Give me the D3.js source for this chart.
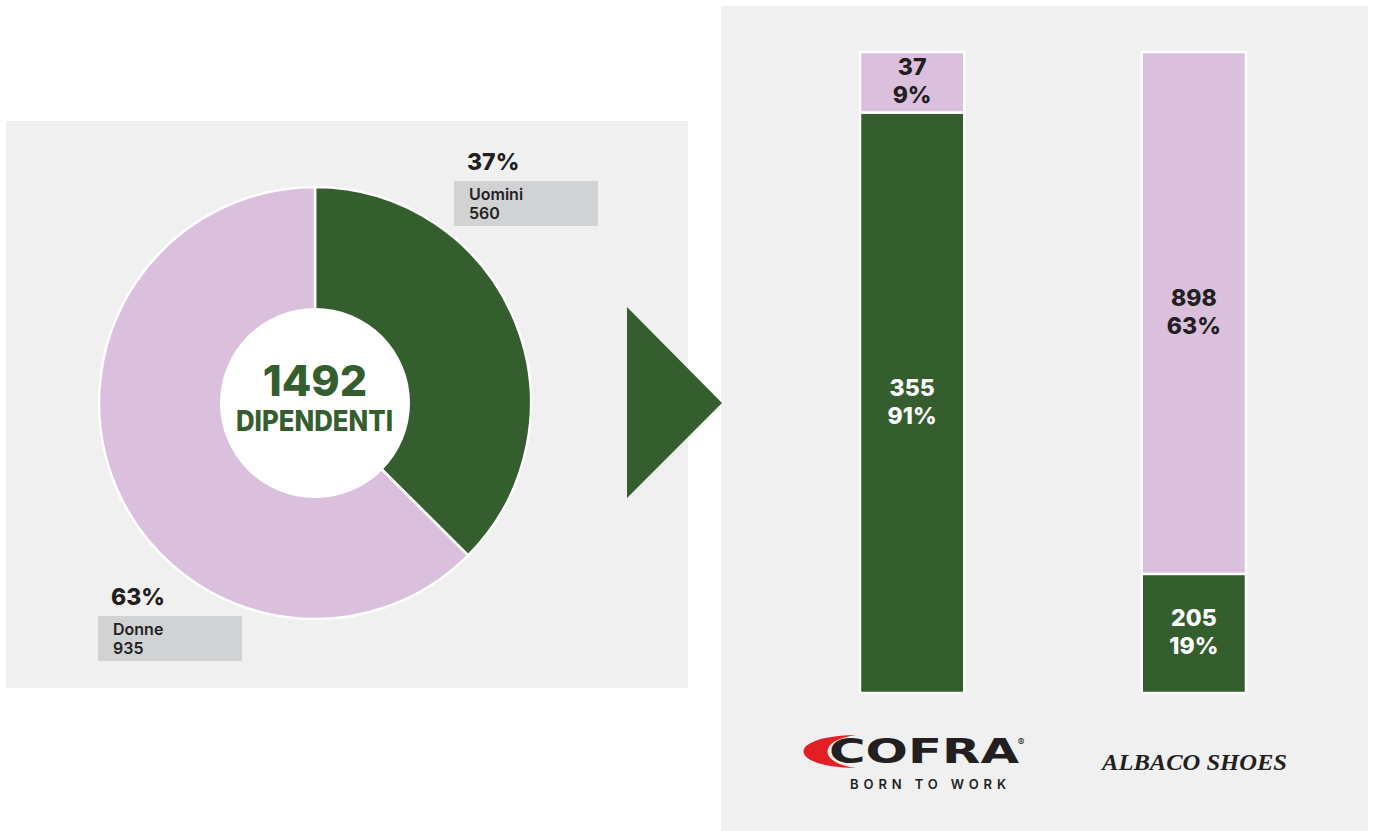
<!DOCTYPE html>
<html>
<head>
<meta charset="utf-8">
<script src="https://cdn.jsdelivr.net/npm/d3@7"></script>
<style>
  html, body { margin: 0; padding: 0; background: #ffffff; }
  svg { display: block; font-family: Inter, "Noto Sans", Roboto, sans-serif; }
</style>
</head>
<body>
<svg id="chart" width="1373" height="831"></svg>
<script>
// Workforce split by gender (donut)
const genderLabels = ["Uomini", "Donne"];
const genderCounts = [560, 935];
const genderShares = ["37%", "63%"];
const totalEmployees = "1492";
const totalCaption = "DIPENDENTI";

// Split by company (stacked columns): men, women
const companies = ["COFRA", "ALBACO SHOES"];
const menCounts = [355, 205];
const womenCounts = [37, 898];
const menShares = ["91%", "19%"];
const womenShares = ["9%", "63%"];

const GREEN = "#355e2e";
const PINK = "#dbc0de";
const PANEL = "#f0f0f0";
const INK = "#231f20";

const svg = d3.select("#chart");

// ---------- background panels ----------
svg.append("rect").attr("x", 6).attr("y", 121).attr("width", 682).attr("height", 567).attr("fill", PANEL);
svg.append("rect").attr("x", 721).attr("y", 6).attr("width", 647).attr("height", 825).attr("fill", PANEL);

// ---------- donut ----------
const cx = 315, cy = 403, rOuter = 216, rInner = 95;
const pie = d3.pie().sort(null).value(d => d.count);
const arcs = pie(genderLabels.map((l, i) => ({ label: l, count: genderCounts[i], share: genderShares[i] })));
const arc = d3.arc().innerRadius(0).outerRadius(rOuter);
const colour = d3.scaleOrdinal().domain(genderLabels).range([GREEN, PINK]);

const donut = svg.append("g").attr("transform", `translate(${cx},${cy})`);
donut.selectAll("path.slice")
  .data(arcs)
  .join("path")
  .attr("class", "slice")
  .attr("d", arc)
  .attr("fill", d => colour(d.data.label))
  .attr("stroke", "#ffffff")
  .attr("stroke-width", 2.5)
  .attr("stroke-linejoin", "round");
donut.append("circle").attr("r", rInner).attr("fill", "#ffffff");

donut.append("text")
  .attr("y", -7).attr("text-anchor", "middle")
  .attr("font-size", 43).attr("font-weight", 800).attr("fill", GREEN)
  .text(totalEmployees);
donut.append("text")
  .attr("x", -79).attr("y", 28)
  .attr("font-size", 28).attr("font-weight", 800).attr("fill", GREEN)
  .attr("textLength", 157).attr("lengthAdjust", "spacingAndGlyphs")
  .text(totalCaption);

// callouts for the two slices
const callouts = [
  { x: 454, y: 181 },
  { x: 98, y: 616 }
];
arcs.forEach((a, i) => {
  const c = callouts[i];
  const g = svg.append("g").attr("transform", `translate(${c.x},${c.y})`);
  g.append("text")
    .attr("x", 13).attr("y", -11)
    .attr("font-size", 23).attr("font-weight", 800).attr("fill", INK)
    .text(a.data.share);
  g.append("rect").attr("width", 144).attr("height", 45).attr("fill", "#d1d2d4");
  g.append("text")
    .attr("x", 15).attr("y", 19)
    .attr("font-size", 16).attr("font-weight", 600).attr("fill", INK)
    .text(a.data.label);
  g.append("text")
    .attr("x", 15).attr("y", 38)
    .attr("font-size", 16).attr("font-weight", 600).attr("fill", INK)
    .text(a.data.count);
});

// ---------- arrow ----------
svg.append("path")
  .attr("d", "M627,307 L722,403 L627,498 Z")
  .attr("fill", GREEN);

// ---------- stacked columns ----------
const x = d3.scaleBand().domain(companies).range([860, 1246]).paddingInner(0.63);
const y = d3.scaleLinear().domain([0, 1]).range([693, 52]);

const rows = companies.map((c, i) => {
  const total = menCounts[i] + womenCounts[i];
  return { company: c, segments: [
    { key: "men", count: menCounts[i], share: menShares[i], y0: 0, y1: menCounts[i] / total, fill: GREEN, ink: "#ffffff" },
    { key: "women", count: womenCounts[i], share: womenShares[i], y0: menCounts[i] / total, y1: 1, fill: PINK, ink: INK }
  ]};
});

const col = svg.selectAll("g.col").data(rows).join("g")
  .attr("class", "col")
  .attr("transform", d => `translate(${x(d.company)},0)`);

col.selectAll("rect")
  .data(d => d.segments)
  .join("rect")
  .attr("x", 0)
  .attr("width", x.bandwidth())
  .attr("y", s => y(s.y1))
  .attr("height", s => y(s.y0) - y(s.y1))
  .attr("fill", s => s.fill)
  .attr("stroke", "#ffffff")
  .attr("stroke-width", 2.5);

col.each(function (d) {
  const g = d3.select(this);
  d.segments.forEach(s => {
    const mid = (y(s.y0) + y(s.y1)) / 2;
    const t = g.append("text")
      .attr("text-anchor", "middle")
      .attr("font-size", 23).attr("font-weight", 800).attr("fill", s.ink);
    t.append("tspan").attr("x", x.bandwidth() / 2).attr("y", mid - 7).text(s.count);
    t.append("tspan").attr("x", x.bandwidth() / 2).attr("y", mid + 21).text(s.share);
  });
});

// ---------- company marks under the columns ----------
const cofraX = x("COFRA") + x.bandwidth() / 2;
const logo = svg.append("g");
logo.append("path")
  .attr("d", "M856,735 C786,736 786,767 856,768 C818,763 818,740 856,735 Z")
  .attr("fill", "#e31e24");
logo.append("text")
  .attr("x", 829).attr("y", 763)
  .style("font-family", "'DejaVu Sans', sans-serif")
  .attr("font-size", 34).attr("font-weight", 700).attr("fill", INK)
  .attr("textLength", 190).attr("lengthAdjust", "spacingAndGlyphs")
  .text(companies[0]);
logo.append("text")
  .attr("x", 1021).attr("y", 746)
  .attr("font-size", 10).attr("fill", INK).attr("text-anchor", "middle")
  .text("®");
logo.append("text")
  .attr("x", cofraX + 16).attr("y", 789)
  .attr("text-anchor", "middle")
  .attr("font-size", 13).attr("font-weight", 600).attr("fill", INK)
  .attr("textLength", 156).attr("lengthAdjust", "spacing")
  .text("BORN TO WORK");

svg.append("text")
  .attr("x", 1102).attr("y", 770)
  .style("font-family", "'Liberation Serif', 'DejaVu Serif', serif")
  .attr("font-style", "italic").attr("font-weight", 700)
  .attr("font-size", 23).attr("fill", INK)
  .attr("textLength", 185).attr("lengthAdjust", "spacingAndGlyphs")
  .text(companies[1]);
</script>
</body>
</html>
